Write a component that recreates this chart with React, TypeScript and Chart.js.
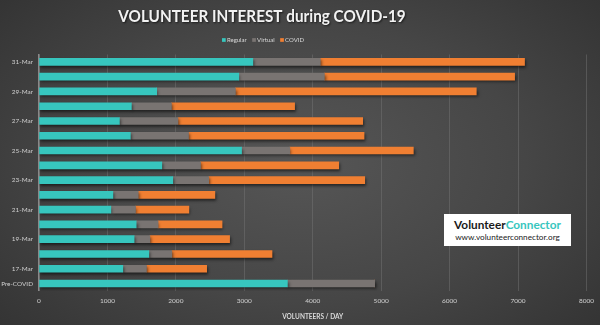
import React, { useEffect, useRef } from "react";
import { Chart, registerables } from "chart.js";

Chart.register(...registerables);

const chartTitle = "VOLUNTEER INTEREST during COVID-19";
const categories = [
  "Pre-COVID", "17-Mar", "18-Mar", "19-Mar", "20-Mar", "21-Mar", "22-Mar", "23-Mar",
  "24-Mar", "25-Mar", "26-Mar", "27-Mar", "28-Mar", "29-Mar", "30-Mar", "31-Mar",
];
const regular = [3630, 1225, 1605, 1390, 1420, 1050, 1080, 1955, 1795, 2960, 1335, 1175, 1350, 1720, 2920, 3125];
const virtual = [1275, 345, 335, 230, 320, 360, 370, 525, 565, 705, 850, 855, 585, 1150, 1250, 985];
const covid = [0, 880, 1465, 1165, 935, 780, 1120, 2280, 2020, 1805, 2565, 2700, 1800, 3520, 2780, 2985];
const xTicks = [0, 1000, 2000, 3000, 4000, 5000, 6000, 7000, 8000];

const shadowPlugin = {
  id: "barShadow",
  beforeDatasetsDraw(chart: any) {
    const ctx = chart.ctx;
    ctx.save();
    ctx.shadowColor = "rgba(0,0,0,0.55)";
    ctx.shadowBlur = 3;
    ctx.shadowOffsetX = 1;
    ctx.shadowOffsetY = 2;
  },
  afterDatasetsDraw(chart: any) {
    chart.ctx.restore();
  },
};

// Title and legend, drawn from the chart's own data, centred like the original
const headerPlugin = {
  id: "header",
  afterDraw(chart: any) {
    const ctx = chart.ctx;
    const cx = 262;
    ctx.save();
    ctx.save();
    ctx.translate(cx, 17);
    ctx.scale(0.9, 1);
    ctx.font = "bold 17px Lato";
    ctx.fillStyle = "#f2f2f2";
    ctx.textAlign = "center";
    ctx.textBaseline = "middle";
    ctx.shadowColor = "rgba(0,0,0,0.6)";
    ctx.shadowBlur = 2;
    ctx.shadowOffsetX = 1;
    ctx.shadowOffsetY = 1;
    ctx.fillText(chartTitle, 0, 0);
    ctx.restore();
    ctx.font = "6px Lato";
    ctx.textBaseline = "middle";
    ctx.textAlign = "left";
    const box = 3.7;
    const gap = 1.2;
    const spacing = 5.5;
    const items = chart.data.datasets.map((d: any) => ({
      label: d.label,
      color: d.backgroundColor,
      w: ctx.measureText(d.label).width,
    }));
    const total =
      items.reduce((s: number, it: any) => s + box + gap + it.w, 0) +
      spacing * (items.length - 1);
    let x = cx + 1 - total / 2;
    const y = 40;
    for (const it of items) {
      ctx.fillStyle = it.color;
      ctx.fillRect(x, y - box / 2, box, box);
      x += box + gap;
      ctx.fillStyle = "#d9d9d9";
      ctx.fillText(it.label, x, y);
      x += it.w + spacing;
    }
    ctx.restore();
  },
};

export default function App() {
  const ref = useRef<HTMLCanvasElement>(null);
  useEffect(() => {
    if (!ref.current) return;
    const chart = new Chart(ref.current, {
      type: "bar",
      data: {
        labels: categories,
        datasets: [
          { label: "Regular", data: regular, backgroundColor: "#37c6be" },
          { label: "Virtual", data: virtual, backgroundColor: "#797472" },
          { label: "COVID", data: covid, backgroundColor: "#f07f32" },
        ],
      },
      plugins: [shadowPlugin, headerPlugin],
      options: {
        indexAxis: "y",
        animation: false,
        responsive: false,
        maintainAspectRatio: false,
        layout: { padding: { left: 0, right: 10, top: 54.5, bottom: 4 } },
        datasets: { bar: { barThickness: 7 } },
        plugins: {
          title: { display: false },
          legend: { display: false },
          tooltip: { enabled: false },
        },
        scales: {
          x: {
            stacked: true,
            min: 0,
            max: 8000,
            afterBuildTicks(scale: any) {
              scale.ticks = xTicks.map((v) => ({ value: v }));
            },
            grid: { color: "rgba(120,120,120,0.45)", drawTicks: false },
            border: { display: false },
            ticks: {
              color: "#d0d0d0",
              font: { family: "Lato", size: 6.5 },
              padding: 6,
              callback: (v: any) => String(v),
            },
            title: {
              display: true,
              text: "VOLUNTEERS / DAY",
              color: "#d9d9d9",
              font: { family: "Lato", size: 6.5, weight: "bold" },
              padding: { top: 2.5, bottom: 0 },
            },
          },
          y: {
            stacked: true,
            reverse: true,
            afterFit(scale: any) {
              scale.width = 39;
            },
            grid: { display: false, drawTicks: false },
            border: { display: true, color: "#8a8a8a", width: 1.5 },
            ticks: {
              color: "#d0d0d0",
              font: { family: "Lato", size: 6.4 },
              autoSkip: false,
              padding: 6,
              callback: (_v: any, i: number) =>
                i === 0 || i % 2 === 1 ? categories[i] : "",
            },
          },
        },
      },
    });
    return () => chart.destroy();
  }, []);

  return (
    <div
      style={{
        position: "absolute",
        left: 0,
        top: 0,
        width: 600,
        height: 325,
        background:
          "radial-gradient(ellipse 75% 85% at 50% 50%, #565656 0%, #464646 50%, #2f2f2f 100%)",
        overflow: "hidden",
      }}
    >
      <canvas ref={ref} width={600} height={325} style={{ display: "block" }} />
      <div
        style={{
          position: "absolute",
          left: 444,
          top: 214,
          width: 127,
          height: 32,
          background: "#ffffff",
          fontFamily: "Lato",
          textAlign: "center",
          lineHeight: 1,
        }}
      >
        <div style={{ fontSize: 11.8, fontWeight: "bold", marginTop: 4.5, color: "#1a1a1a" }}>
          Volunteer<span style={{ color: "#37c6be" }}>Connector</span>
        </div>
        <div style={{ fontSize: 8.2, marginTop: 3, color: "#222" }}>www.volunteerconnector.org</div>
      </div>
    </div>
  );
}
